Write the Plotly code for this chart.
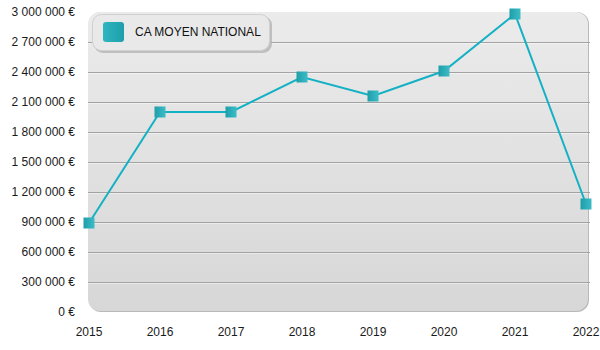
import base64
import plotly.graph_objects as go

years = [2015, 2016, 2017, 2018, 2019, 2020, 2021, 2022]
ca_moyen = [890000, 2000000, 2000000, 2350000, 2160000, 2410000, 2980000, 1080000]
series_name = "CA MOYEN NATIONAL"
y_ticks = [0, 300000, 600000, 900000, 1200000, 1500000, 1800000, 2100000, 2400000, 2700000, 3000000]
y_tick_labels = [f"{v:,}".replace(",", " ") + " €" for v in y_ticks]

W, H = 600, 350
ML, MR, MT, MB = 88, 10, 12, 38
PW, PH = W - ML - MR, H - MT - MB
Y_MAX = 3000000


def svg_uri(svg):
    return "data:image/svg+xml;base64," + base64.b64encode(svg.encode()).decode()


bg_svg = f"""<svg xmlns='http://www.w3.org/2000/svg' width='{PW}' height='{PH}' viewBox='0 0 {PW} {PH}'>
<defs><linearGradient id='g' x1='0' y1='0' x2='0' y2='1'>
<stop offset='0' stop-color='#ebebeb'/><stop offset='1' stop-color='#d7d7d7'/></linearGradient></defs>
<rect x='1' y='0' width='{PW-2}' height='{PH}' rx='12' ry='12' fill='#b9b9b9'/>
<rect x='0' y='0' width='{PW-2}' height='{PH-1}' rx='12' ry='12' fill='url(#g)'/>
</svg>"""

LX0, LY0, LW, LH = 92, 14, 178, 37
leg_svg = f"""<svg xmlns='http://www.w3.org/2000/svg' width='{LW+4}' height='{LH+4}' viewBox='0 0 {LW+4} {LH+4}'>
<defs><linearGradient id='m' x1='0' y1='0' x2='1' y2='0'>
<stop offset='0' stop-color='#2fb6c0'/><stop offset='1' stop-color='#1d9fab'/></linearGradient></defs>
<rect x='2' y='2' width='{LW}' height='{LH}' rx='9' ry='9' fill='#b4b4b4' opacity='0.8'/>
<rect x='0.5' y='0.5' width='{LW-1}' height='{LH-1}' rx='9' ry='9' fill='#e9e9e9' stroke='#d0d0d0'/>
<rect x='11' y='8' width='21' height='20' rx='3' ry='3' fill='url(#m)'/>
</svg>"""

fig = go.Figure()
fig.add_trace(go.Scatter(
    x=years, y=ca_moyen, mode="lines+markers", name=series_name,
    line=dict(color="#14b1c4", width=2),
    marker=dict(symbol="square", size=11, color="#1e9ea9",
                gradient=dict(type="horizontal", color="#3bbcc6"),
                line=dict(width=0)),
    cliponaxis=False, showlegend=False,
))

# white highlight just under each gridline (1 px below)
px_val = Y_MAX / PH
shapes = []
for t in y_ticks[1:-1]:
    shapes.append(dict(type="line", xref="paper", yref="y", x0=0, x1=(PW - 2) / PW,
                       y0=t - px_val, y1=t - px_val, layer="below",
                       line=dict(color="rgba(255,255,255,0.9)", width=1)))

px_per_year = (586 - 90) / (years[-1] - years[0])
fig.update_layout(
    width=W, height=H,
    margin=dict(l=ML, r=MR, t=MT, b=MB, autoexpand=False),
    paper_bgcolor="white", plot_bgcolor="rgba(0,0,0,0)",
    font=dict(family="Liberation Sans, Arial, sans-serif", size=12, color="#1a1a1a"),
    xaxis=dict(
        range=[years[0] - (89 - ML) / px_per_year, years[-1] + (ML + PW - 586) / px_per_year],
        tickvals=years, ticktext=[str(y) for y in years],
        showgrid=False, zeroline=False, showline=False, ticks="",
        ticklabelstandoff=11, automargin=False,
    ),
    yaxis=dict(
        range=[0, Y_MAX], tickvals=y_ticks, ticktext=y_tick_labels,
        showgrid=True, gridcolor="#a2a2a2", gridwidth=1,
        zeroline=False, showline=False, ticks="", ticklabelstandoff=12,
        automargin=False,
    ),
    shapes=shapes,
    images=[
        dict(source=svg_uri(bg_svg), xref="paper", yref="paper", x=0, y=1,
             sizex=1, sizey=1, sizing="stretch", xanchor="left", yanchor="top", layer="below"),
        dict(source=svg_uri(leg_svg), xref="paper", yref="paper",
             x=(LX0 - ML) / PW, y=1 - (LY0 - MT) / PH,
             sizex=(LW + 4) / PW, sizey=(LH + 4) / PH, sizing="stretch",
             xanchor="left", yanchor="top", layer="above"),
    ],
    annotations=[dict(
        text=series_name, xref="paper", yref="paper",
        x=(LX0 + 41 - ML) / PW, y=1 - (LY0 + 18 - MT) / PH,
        xanchor="left", yanchor="middle", showarrow=False,
        font=dict(size=12, color="#111"),
    )],
)

fig.write_html("out.html")
